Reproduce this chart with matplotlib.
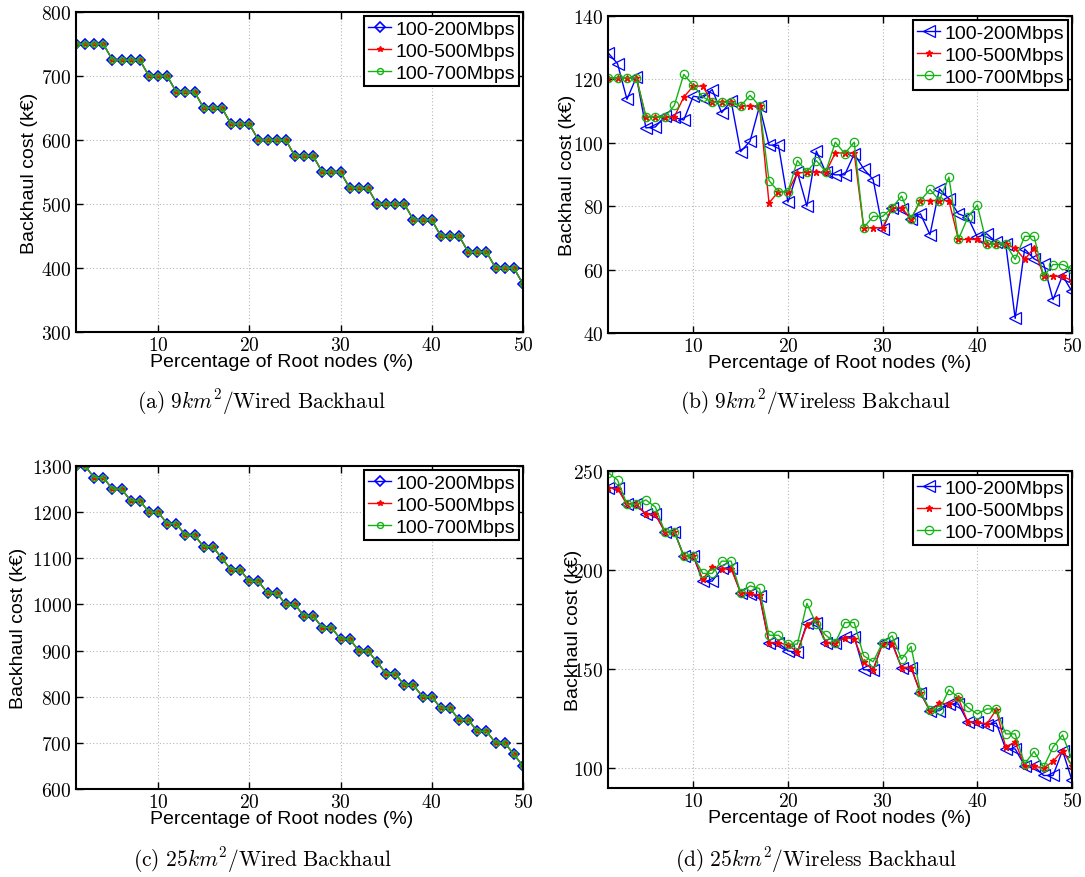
import numpy as np
import matplotlib
matplotlib.use("Agg")
import matplotlib.pyplot as plt
from matplotlib.ticker import FuncFormatter, FixedLocator

plt.rcParams["mathtext.fontset"] = "cm"
plt.rcParams["font.family"] = ["Liberation Sans", "DejaVu Sans"]

# Percentage of root nodes (%)
root_pct = list(range(1, 51))
series_names = ["100-200Mbps", "100-500Mbps", "100-700Mbps"]

# (a) 9 km^2, wired backhaul -- identical for all three capacity ranges
wired_9 = [750, 750, 750, 750, 725, 725, 725, 725, 700, 700,
           700, 675, 675, 675, 650, 650, 650, 625, 625, 625,
           600, 600, 600, 600, 575, 575, 575, 550, 550, 550,
           525, 525, 525, 500, 500, 500, 500, 475, 475, 475,
           450, 450, 450, 425, 425, 425, 400, 400, 400, 375]

# (c) 25 km^2, wired backhaul -- identical for all three capacity ranges
wired_25 = [1300, 1300, 1275, 1275, 1250, 1250, 1225, 1225, 1200, 1200,
            1175, 1175, 1150, 1150, 1125, 1125, 1100, 1075, 1075, 1050,
            1050, 1025, 1025, 1000, 1000, 975, 975, 950, 950, 925,
            925, 900, 900, 875, 850, 850, 825, 825, 800, 800,
            775, 775, 750, 750, 725, 725, 700, 700, 675, 650]

# (b) 9 km^2, wireless backhaul
wl9_200 = [128.4, 125.0, 113.7, 120.8, 104.7, 105.0, 108.4, 108.0, 107.2, 114.7,
           114.2, 116.8, 109.5, 113.2, 97.2, 100.5, 111.6, 99.3, 99.2, 81.3,
           90.7, 80.0, 97.4, 90.7, 89.9, 89.9, 96.5, 91.8, 88.4, 72.8,
           79.4, 79.2, 76.0, 77.6, 71.0, 85.5, 82.3, 77.6, 76.5, 70.2,
           71.3, 68.6, 68.1, 44.6, 66.5, 63.4, 61.8, 50.5, 58.1, 53.1]
wl9_500 = [120.5, 120.5, 120.5, 120.5, 108.2, 108.2, 108.2, 108.2, 114.4, 117.9,
           117.9, 112.8, 112.8, 112.8, 111.6, 111.6, 111.6, 81.0, 84.6, 84.6,
           90.5, 90.7, 90.7, 90.7, 96.8, 96.8, 96.8, 73.2, 73.2, 73.2,
           79.5, 79.5, 76.0, 81.8, 81.8, 81.8, 81.8, 69.5, 69.5, 69.5,
           68.1, 68.1, 68.1, 66.7, 63.2, 66.8, 57.9, 57.9, 57.9, 56.5]
wl9_700 = [120.5, 120.5, 120.5, 120.5, 108.2, 108.2, 108.2, 111.8, 121.6, 118.1,
           114.5, 112.8, 112.8, 112.8, 111.6, 115.0, 111.6, 88.1, 84.6, 84.6,
           94.4, 90.9, 94.4, 90.9, 100.2, 96.6, 100.2, 73.2, 76.8, 76.8,
           79.5, 83.2, 76.0, 81.8, 85.3, 81.8, 89.2, 69.5, 76.5, 80.4,
           68.1, 68.1, 68.1, 63.2, 70.5, 70.5, 57.9, 61.6, 61.6, 60.2]

# (d) 25 km^2, wireless backhaul
wl25_200 = [241.6, 241.6, 233.2, 233.2, 228.1, 228.1, 219.4, 219.4, 207.1, 207.1,
            194.4, 194.4, 200.8, 201.2, 188.6, 187.7, 186.9, 163.4, 163.1, 159.2,
            158.4, 173.2, 173.5, 163.4, 163.4, 166.3, 166.3, 149.7, 149.5, 163.4,
            163.4, 150.8, 150.8, 137.9, 129.0, 129.0, 132.4, 132.4, 123.2, 123.2,
            121.8, 122.8, 109.7, 109.7, 101.3, 101.0, 96.3, 96.3, 108.9, 93.8]
wl25_500 = [241.6, 241.1, 233.2, 233.2, 228.1, 228.1, 219.4, 219.4, 207.1, 207.1,
            195.3, 201.7, 200.7, 200.7, 188.6, 188.2, 187.2, 163.4, 163.4, 162.1,
            158.7, 172.1, 175.5, 163.4, 163.4, 165.9, 165.4, 153.4, 149.7, 162.9,
            162.9, 150.8, 150.8, 137.9, 129.0, 132.7, 132.4, 135.2, 123.2, 123.2,
            122.3, 129.5, 110.6, 113.1, 101.3, 101.0, 100.0, 103.4, 108.9, 101.3]
wl25_700 = [249.2, 245.5, 233.2, 233.2, 235.4, 231.8, 219.4, 219.4, 207.1, 207.1,
            198.3, 198.3, 204.5, 204.5, 188.6, 192.0, 190.7, 167.1, 167.1, 162.6,
            162.6, 183.2, 172.7, 167.1, 163.4, 173.5, 173.5, 156.7, 153.7, 163.4,
            166.8, 155.0, 161.4, 138.6, 129.4, 129.4, 139.6, 135.7, 130.7, 127.3,
            129.9, 129.9, 117.3, 117.3, 102.2, 108.4, 100.5, 110.6, 116.8, 104.4]

captions = [r"$\mathrm{(a)\ 9}km^2/\mathrm{Wired\ Backhaul}$",
            r"$\mathrm{(b)\ 9}km^2/\mathrm{Wireless\ Bakchaul}$",
            r"$\mathrm{(c)\ 25}km^2/\mathrm{Wired\ Backhaul}$",
            r"$\mathrm{(d)\ 25}km^2/\mathrm{Wireless\ Backhaul}$"]

BLUE = (0.0, 0.0, 1.0)
RED = (1.0, 0.0, 0.0)
GREEN = (0.08, 0.70, 0.08)

fig = plt.figure(figsize=(10.85, 8.78), dpi=100)

axes_rects = [
    [0.0700, 0.6207, 0.4120, 0.3645],
    [0.5604, 0.6196, 0.4276, 0.3610],
    [0.0700, 0.1002, 0.4120, 0.3679],
    [0.5604, 0.1014, 0.4276, 0.3610],
]
ylims = [(300, 800), (40, 140), (600, 1300), (90, 250)]
yticks = [list(range(300, 801, 100)), list(range(40, 141, 20)),
          list(range(600, 1301, 100)), [100, 150, 200, 250]]
ylabel_x = [-0.085, -0.069, -0.110, -0.056]
xlabel_x = [0.461, 0.5, 0.461, 0.5]
caption_pos = [(0.2415, 0.542), (0.752, 0.542), (0.2415, 0.0205), (0.752, 0.0205)]

panel_data = [
    (wired_9, wired_9, wired_9),
    (wl9_200, wl9_500, wl9_700),
    (wired_25, wired_25, wired_25),
    (wl25_200, wl25_500, wl25_700),
]

tick_fmt = FuncFormatter(lambda v, p: r"$%d$" % int(round(v)))

for i, rect in enumerate(axes_rects):
    ax = fig.add_axes(rect)
    s200, s500, s700 = panel_data[i]
    wired = i in (0, 2)
    if wired:
        ax.plot(root_pct, s200, "-", color=BLUE, lw=1.0, marker="D", ms=5.0,
                mfc="none", mec=BLUE, mew=1.2, label=series_names[0])
        ax.plot(root_pct, s500, "-", color=RED, lw=1.0, marker="*", ms=4.0,
                mfc=RED, mec=RED, label=series_names[1])
        ax.plot(root_pct, s700, "-", color=GREEN, lw=1.0, marker="o", ms=4.3,
                mfc="none", mec=GREEN, mew=1.0, label=series_names[2])
    else:
        ax.plot(root_pct, s200, "-", color=BLUE, lw=1.0, marker="<", ms=8.0,
                mfc="none", mec=BLUE, mew=0.9, label=series_names[0])
        ax.plot(root_pct, s500, "-", color=RED, lw=1.0, marker="*", ms=5.0,
                mfc=RED, mec=RED, label=series_names[1])
        ax.plot(root_pct, s700, "-", color=GREEN, lw=1.0, marker="o", ms=6.0,
                mfc="none", mec=GREEN, mew=0.9, label=series_names[2])

    ax.set_xlim(1, 50)
    ax.set_ylim(*ylims[i])
    ax.xaxis.set_major_locator(FixedLocator([10, 20, 30, 40, 50]))
    ax.yaxis.set_major_locator(FixedLocator(yticks[i]))
    ax.xaxis.set_major_formatter(tick_fmt)
    ax.yaxis.set_major_formatter(tick_fmt)
    ax.tick_params(direction="in", length=5, width=1.0, top=True, right=True,
                   labelsize=14, pad=3)
    ax.grid(True, color="#b8b8b8", linestyle=(0, (1, 2)), linewidth=0.8)
    for sp in ax.spines.values():
        sp.set_linewidth(1.5)
        sp.set_color("black")

    ax.set_xlabel("Percentage of Root nodes (%)", fontsize=14)
    ax.xaxis.set_label_coords(xlabel_x[i], -0.066)
    ax.xaxis.label.set_va("top")
    ax.set_ylabel("Backhaul cost (k\u20ac)", fontsize=14)
    ax.yaxis.set_label_coords(ylabel_x[i], 0.5)

    leg = ax.legend(loc="upper right", fontsize=14, numpoints=1,
                    handlelength=1.2, handletextpad=0.2, labelspacing=0.22,
                    borderpad=0.22, borderaxespad=0.2, fancybox=False,
                    framealpha=1.0, edgecolor="black")
    leg.get_frame().set_linewidth(1.5)

    cx, cy = caption_pos[i]
    fig.text(cx, cy, captions[i], ha="center", va="center", fontsize=15.5)

fig.savefig("out.png", dpi=100)
